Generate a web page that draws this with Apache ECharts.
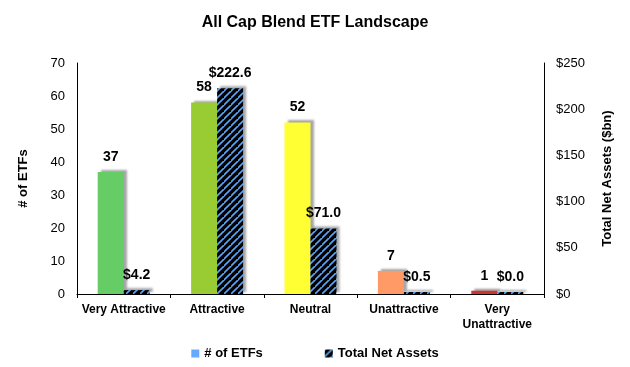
<!DOCTYPE html>
<html>
<head>
<meta charset="utf-8">
<script src="https://cdn.jsdelivr.net/npm/echarts@6/dist/echarts.min.js"></script>
<style>
html,body{margin:0;padding:0;background:#fff;}
#chart{width:630px;height:367px;}
</style>
</head>
<body>
<div id="chart"></div>
<script>
var categories = ['Very Attractive', 'Attractive', 'Neutral', 'Unattractive', 'Very Unattractive'];
var etfCounts = [37, 58, 52, 7, 1];
var netAssets = [4.2, 222.6, 71.0, 0.5, 0.0];
var countColors = ['#66CC66', '#99CC33', '#FFFF33', '#FF9966', '#CC3333'];
var seriesNames = ['# of ETFs', 'Total Net Assets'];

function makeHatch() {
  var s = 7;
  var c = document.createElement('canvas');
  c.width = s; c.height = s;
  var ctx = c.getContext('2d');
  ctx.fillStyle = '#000';
  ctx.fillRect(0, 0, s, s);
  ctx.strokeStyle = '#5AA5F5';
  ctx.lineWidth = 1.6;
  ctx.beginPath();
  ctx.moveTo(-1, s + 1); ctx.lineTo(s + 1, -1);
  ctx.moveTo(-s - 1, s + 1); ctx.lineTo(1, -1);
  ctx.moveTo(-1, 2 * s + 1); ctx.lineTo(s + 1 + s, -1 + s);
  ctx.stroke();
  return c;
}
var hatch = { image: makeHatch(), repeat: 'repeat' };

var FONT = 'Liberation Sans, Arial, sans-serif';
var chart = echarts.init(document.getElementById('chart'), null, { renderer: 'canvas' });
var shadow = { shadowColor: 'rgba(0,0,0,0.35)', shadowBlur: 2, shadowOffsetX: 3, shadowOffsetY: -2 };

chart.setOption({
  animation: false,
  backgroundColor: '#fff',
  textStyle: { fontFamily: FONT },
  title: {
    text: 'All Cap Blend ETF Landscape',
    left: 'center', top: 10,
    textStyle: { fontFamily: FONT, fontSize: 16, fontWeight: 'bold', color: '#000' }
  },
  legend: {
    bottom: 2, left: 'center',
    itemWidth: 8, itemHeight: 8, itemGap: 62,
    icon: 'rect',
    textStyle: { fontFamily: FONT, fontSize: 13, fontWeight: 'bold', color: '#000' },
    data: [
      { name: seriesNames[0], itemStyle: { color: '#66AAFF' } },
      { name: seriesNames[1], itemStyle: { color: hatch } }
    ]
  },
  grid: { left: 77, right: 86, top: 63, bottom: 73, containLabel: false },
  xAxis: {
    type: 'category',
    data: categories,
    axisLine: { lineStyle: { color: '#000', width: 1 } },
    axisTick: { show: true, alignWithLabel: false, length: 4, lineStyle: { color: '#000' } },
    axisLabel: {
      interval: 0, margin: 8, color: '#000', fontFamily: FONT, fontSize: 12, fontWeight: 'bold', lineHeight: 15,
      formatter: function (v) { return v === 'Very Unattractive' ? 'Very\nUnattractive' : v; }
    }
  },
  yAxis: [
    {
      type: 'value', min: 0, max: 70, interval: 10,
      name: '# of ETFs', nameLocation: 'middle', nameGap: 47, nameRotate: 90,
      nameTextStyle: { fontFamily: FONT, fontSize: 13, fontWeight: 'bold', color: '#000' },
      axisLine: { show: true, lineStyle: { color: '#000' } },
      axisTick: { show: false },
      splitLine: { show: false },
      axisLabel: { color: '#000', fontFamily: FONT, fontSize: 13, margin: 12 }
    },
    {
      type: 'value', min: 0, max: 250, interval: 50,
      name: 'Total Net Assets ($bn)', nameLocation: 'middle', nameGap: 57, nameRotate: 90,
      nameTextStyle: { fontFamily: FONT, fontSize: 13, fontWeight: 'bold', color: '#000' },
      axisLine: { show: true, lineStyle: { color: '#000' } },
      axisTick: { show: false },
      splitLine: { show: false },
      axisLabel: { color: '#000', fontFamily: FONT, fontSize: 13, margin: 12,
        formatter: function (v) { return '$' + v; } }
    }
  ],
  series: [
    {
      name: seriesNames[0], type: 'bar', yAxisIndex: 0,
      barWidth: 26, barGap: '0%',
      itemStyle: Object.assign({ color: '#66AAFF' }, shadow),
      data: etfCounts.map(function (v, i) { return { value: v, itemStyle: { color: countColors[i] } }; }),
      label: { show: true, position: 'top', distance: 8, color: '#000', fontFamily: FONT, fontSize: 14, fontWeight: 'bold' }
    },
    {
      name: seriesNames[1], type: 'bar', yAxisIndex: 1,
      barWidth: 26, barGap: '0%', barMinHeight: 2,
      itemStyle: Object.assign({ color: hatch }, shadow),
      data: netAssets,
      label: { show: true, position: 'top', distance: 8, color: '#000', fontFamily: FONT, fontSize: 14, fontWeight: 'bold',
        formatter: function (p) { return '$' + p.value.toFixed(1); } }
    }
  ]
});
</script>
</body>
</html>
